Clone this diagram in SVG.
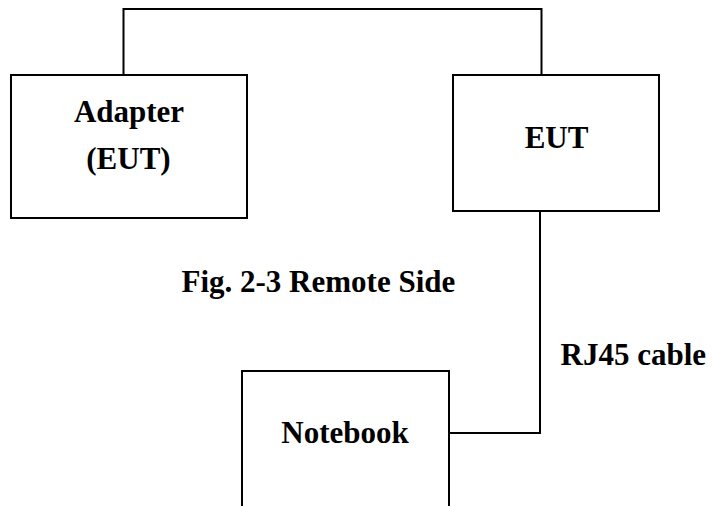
<svg xmlns="http://www.w3.org/2000/svg" width="712" height="506" viewBox="0 0 712 506">
<style>
.box{fill:#fff;stroke:#000;stroke-width:2}
.wire{fill:none;stroke:#000;stroke-width:2}
.t{font-family:"Liberation Serif","Times New Roman",serif;font-weight:bold;font-size:31px;fill:#000}
.c{text-anchor:middle}
</style>
<rect width="712" height="506" fill="#fff"/>
<g id="connectors">
<path class="wire" d="M123.5,75 V9 H541.5 V75"/>
<path class="wire" d="M540,211 V433 H449"/>
</g>
<g id="adapter">
<rect class="box" x="11" y="75" width="236" height="143"/>
<text class="t c" x="129" y="122">Adapter</text>
<text class="t c" x="128.5" y="169">(EUT)</text>
</g>
<g id="eut">
<rect class="box" x="453" y="75" width="206" height="136"/>
<text class="t c" x="556.5" y="148">EUT</text>
</g>
<g id="notebook">
<rect class="box" x="242" y="371" width="207" height="160"/>
<text class="t c" x="345" y="443">Notebook</text>
</g>
<text class="t" x="181.5" y="292" font-size="30">Fig. 2-3 Remote Side</text>
<text class="t" x="560.5" y="365" font-size="31.5">RJ45 cable</text>
</svg>
